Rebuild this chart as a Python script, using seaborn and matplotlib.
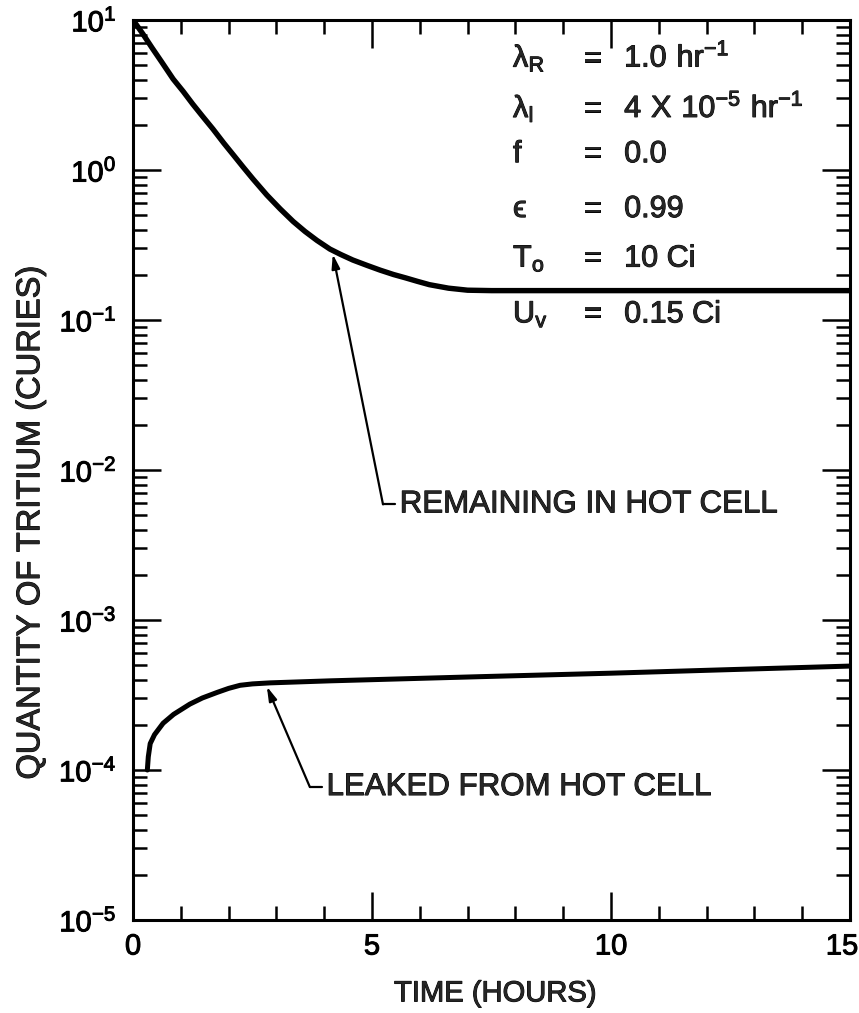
import numpy as np
import pandas as pd
import matplotlib
matplotlib.use("Agg")
import matplotlib.pyplot as plt
import matplotlib.patheffects as pe
from matplotlib.transforms import ScaledTranslation
import seaborn as sns
from matplotlib.ticker import FixedLocator, FixedFormatter, LogLocator, NullFormatter, MultipleLocator

# ---------------- data ----------------
time_remaining = [0, 0.2, 0.4, 0.6, 0.84, 1.05, 1.25, 1.45, 1.67, 1.9, 2.1, 2.3, 2.51,
                  2.8, 3.08, 3.35, 3.6, 3.85, 4.12, 4.35, 4.6, 4.9, 5.17, 5.45, 5.7,
                  5.95, 6.2, 6.6, 7.0, 7.5, 8.0, 10.0, 12.0, 15.0]
q_remaining = [10.0, 8.13, 6.51, 5.25, 4.04, 3.34, 2.75, 2.29, 1.88, 1.51, 1.26, 1.05, 0.871,
               0.681, 0.550, 0.454, 0.389, 0.339, 0.297, 0.273, 0.251, 0.231, 0.215, 0.201,
               0.191, 0.181, 0.172, 0.163, 0.158, 0.157, 0.157, 0.157, 0.157, 0.157]

time_leaked = [0.3, 0.32, 0.36, 0.45, 0.63, 0.85, 1.19, 1.45, 1.76, 2.0, 2.24, 2.5,
               2.87, 4.12, 7.26, 10.0, 12.5, 15.0]
q_leaked = [1.0e-4, 1.224e-4, 1.50e-4, 1.72e-4, 2.05e-4, 2.35e-4, 2.75e-4, 3.02e-4,
            3.29e-4, 3.50e-4, 3.67e-4, 3.75e-4, 3.81e-4, 3.93e-4, 4.19e-4, 4.42e-4,
            4.67e-4, 4.93e-4]

x_ticks = [0, 5, 10, 15]
x_tick_labels = ["0", "5", "10", "15"]
y_ticks = [1e-5, 1e-4, 1e-3, 1e-2, 1e-1, 1e0, 1e1]
y_tick_labels = [r"$\mathregular{10^{-5}}$", r"$\mathregular{10^{-4}}$",
                 r"$\mathregular{10^{-3}}$", r"$\mathregular{10^{-2}}$",
                 r"$\mathregular{10^{-1}}$", r"$\mathregular{10^{0}}$",
                 r"$\mathregular{10^{1}}$"]

param_symbols = [r"$\mathregular{λ_R}$", r"$\mathregular{λ_l}$", "f", "ϵ",
                 r"$\mathregular{T_o}$", r"$\mathregular{U_v}$"]
param_values = [r"$\mathregular{1.0\ hr^{-1}}$", r"$\mathregular{4\ X\ 10^{-5}\ hr^{-1}}$",
                "0.0", "0.99", "10 Ci", "0.15 Ci"]

label_remaining = "REMAINING IN HOT CELL"
label_leaked = "LEAKED FROM HOT CELL"
# annotation anchor points (data coords): tip on curve, elbow, hook end
remaining_tip = (4.18, 0.275)
remaining_elbow = (5.23, 0.0059)
remaining_hook = (5.48, 0.0059)
leaked_tip = (2.8, 3.6e-4)
leaked_elbow = (3.70, 7.7e-5)
leaked_hook = (3.95, 7.7e-5)

# ---------------- style ----------------
sns.set_theme(style="ticks")
plt.rcParams["font.family"] = ["Liberation Sans", "DejaVu Sans"]
plt.rcParams["mathtext.default"] = "regular"
plt.rcParams["axes.linewidth"] = 2.2

thick = [pe.withStroke(linewidth=0.7, foreground="black")]

fig = plt.figure(figsize=(8.59, 10.13), dpi=100)
ax = fig.add_axes([133 / 859, 1 - 920 / 1013, 717 / 859, 900 / 1013])

df_r = pd.DataFrame({"t": time_remaining, "q": q_remaining})
df_l = pd.DataFrame({"t": time_leaked, "q": q_leaked})
sns.lineplot(data=df_r, x="t", y="q", ax=ax, color="black", linewidth=3.9, sort=False)
sns.lineplot(data=df_l, x="t", y="q", ax=ax, color="black", linewidth=3.6, sort=False)

ax.set_yscale("log")
ax.set_xlim(0, 15)
ax.set_ylim(1e-5, 10)

ax.xaxis.set_major_locator(FixedLocator(x_ticks))
ax.xaxis.set_major_formatter(FixedFormatter(x_tick_labels))
ax.xaxis.set_minor_locator(MultipleLocator(1))
ax.yaxis.set_major_locator(FixedLocator(y_ticks))
ax.yaxis.set_major_formatter(FixedFormatter(y_tick_labels))
ax.yaxis.set_minor_locator(LogLocator(base=10, subs=np.arange(2, 10), numticks=20))
ax.yaxis.set_minor_formatter(NullFormatter())

ax.tick_params(axis="both", which="both", direction="in", top=True, right=True,
               colors="black", labelsize=21)
ax.tick_params(axis="x", which="major", length=20, width=1.8, pad=9)
ax.tick_params(axis="x", which="minor", length=10, width=1.8)
ax.tick_params(axis="y", which="major", length=20, width=1.8, pad=12)
ax.tick_params(axis="y", which="minor", length=10, width=1.8)
for s in ax.spines.values():
    s.set_visible(True)
    s.set_color("black")

ax.set_xlabel("TIME (HOURS)", fontsize=21, path_effects=thick)
ax.set_ylabel("QUANTITY OF TRITIUM (CURIES)", fontsize=23.5, path_effects=thick)
ax.xaxis.set_label_coords(0.505, -0.066)
ax.yaxis.set_label_coords(-0.121, 0.441)

for lab in ax.get_xticklabels() + ax.get_yticklabels():
    lab.set_path_effects(thick)
last = ax.xaxis.get_major_ticks()[-1].label1
last.set_transform(last.get_transform() + ScaledTranslation(-8 / 100, 0, fig.dpi_scale_trans))

# parameter block
row_y = [0.948, 0.892, 0.842, 0.781, 0.726, 0.664]
for sym, val, yy in zip(param_symbols, param_values, row_y):
    ax.text(0.53, yy, sym, transform=ax.transAxes, fontsize=22, va="baseline", ha="left",
            path_effects=thick)
    ax.text(0.641, yy, "=", transform=ax.transAxes, fontsize=22, va="baseline", ha="center",
            path_effects=thick)
    ax.text(0.685, yy, val, transform=ax.transAxes, fontsize=22, va="baseline", ha="left",
            path_effects=thick)

# annotations
arrow_kw = dict(arrowstyle="-|>,head_length=0.7,head_width=0.2", color="black",
                lw=1.6, shrinkA=0, shrinkB=0)
for tip, elbow, hook, lab in [(remaining_tip, remaining_elbow, remaining_hook, label_remaining),
                              (leaked_tip, leaked_elbow, leaked_hook, label_leaked)]:
    ax.annotate("", xy=tip, xytext=elbow, arrowprops=arrow_kw)
    ax.plot([elbow[0], hook[0]], [elbow[1], hook[1]], color="black", lw=1.6)
    ax.text(hook[0] + 0.1, hook[1], lab, fontsize=22.5, va="center", ha="left",
            path_effects=thick)

fig.savefig("out.png", dpi=100, facecolor="white")
